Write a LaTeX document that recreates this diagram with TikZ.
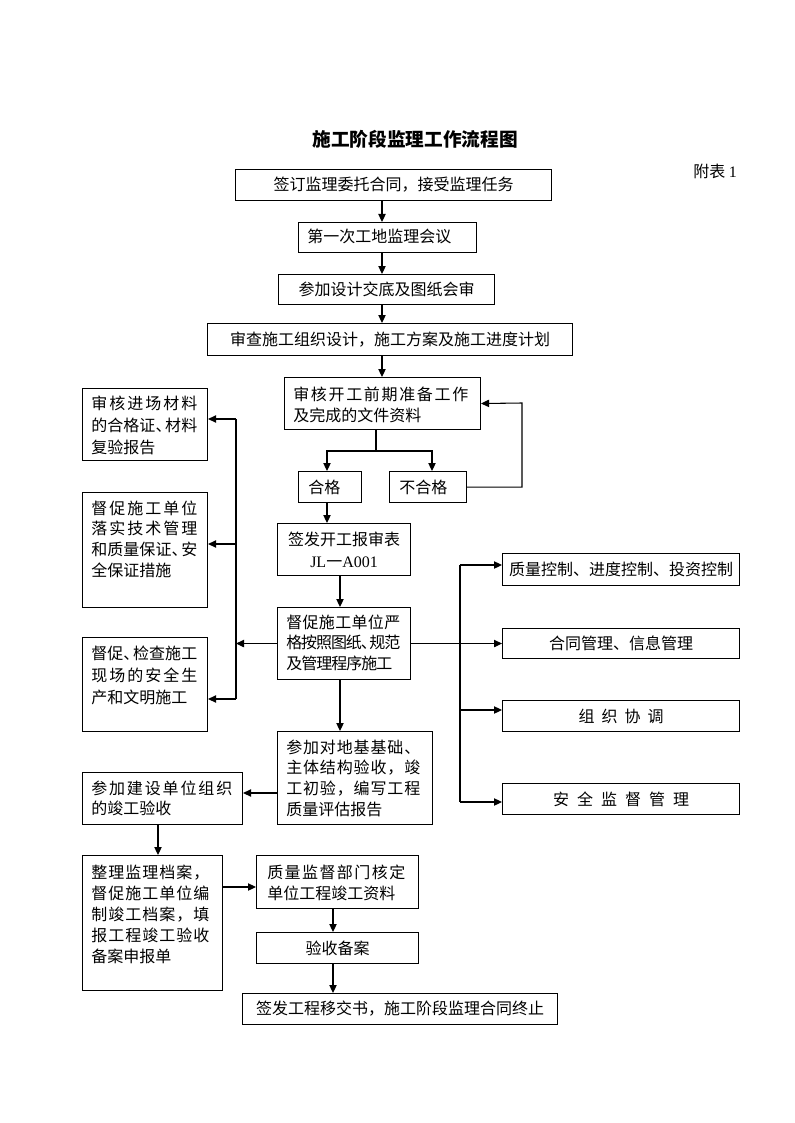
\documentclass[tikz,border=0pt]{standalone}
\usepackage{fontspec}
\setmainfont{Noto Sans CJK SC}
\newfontfamily\lat{Liberation Serif}
\usetikzlibrary{arrows.meta}
\newdimen\px \px=0.75pt
\def\jlx#1{\jlfirst#1\relax}
\def\jlfirst#1{#1\jlrest}
\def\jlrest#1{\ifx\relax#1\else\hskip 0pt plus 1fil minus 4pt\relax#1\expandafter\jlrest\fi}
\newcommand\jl[2]{\makebox[#1\px][s]{\jlx{#2}}}
\newcommand\myrow[1]{\hbox{#1}}
\newcommand\dn{、\kern-0.4em\relax}
\newcommand\ml[2][16.5pt]{\vtop{\baselineskip=#1\relax\lineskiplimit=-20pt\lineskip=0pt #2}}
\begin{document}
\begin{tikzpicture}[x=0.75pt,y=-0.75pt,
  every node/.style={font=\fontsize{12pt}{16.5pt}\selectfont},
  bx/.style={draw, line width=0.8pt, inner sep=0pt, anchor=north west},
  sz/.style 2 args={minimum width=#1*0.75pt, minimum height=#2*0.75pt},
  tx/.style={inner sep=0pt, anchor=base west},
  arr/.style={-{Triangle[length=6pt,width=5.5pt]}, line width=0.8pt},
  ln/.style={line width=0.8pt}]
\useasboundingbox (0,0) rectangle (794,1123);
\fill[white] (0,0) rectangle (794,1123);

% title
\node[inner sep=0pt, font=\fontsize{14pt}{16pt}\selectfont\bfseries] (title) at (415,139) {施工阶段监理工作流程图};
\node[tx] (fubiao) at (693,178) {附表 {\lat 1}};

% main column
\node[bx, sz={316}{31}] (b1) at (235,169) {签订监理委托合同，接受监理任务};
\node[bx, sz={178}{30}] (b2) at (298,222) {};
\node[tx] (b2t) at (307,243) {第一次工地监理会议};
\node[bx, sz={216}{30}] (b3) at (278,274) {参加设计交底及图纸会审};
\node[bx, sz={365}{32}] (b4) at (207,323) {审查施工组织设计，施工方案及施工进度计划};
\node[bx, sz={196}{52}] (b5) at (284,377) {};
\node[tx] (b5t) at (293,400) {\ml[15.75pt]{\myrow{\jl{175}{审核开工前期准备工作}}\myrow{及完成的文件资料}}};
\node[bx, sz={63}{31}] (hg) at (298,471) {};
\node[tx] (hgt) at (308,493) {合格};
\node[bx, sz={77}{31}] (bhg) at (389,471) {};
\node[tx] (bhgt) at (399,493) {不合格};
\node[bx, sz={133}{52}, align=center] (qf) at (277,523) {签发开工报审表\\{\lat JL}一{\lat A001}};
\node[bx, sz={133}{72}] (m) at (277,607) {};
\node[tx] (mt) at (286,628) {\ml[15.5pt]{\myrow{\jl{114}{督促施工单位严}}\myrow{\jl{114}{格按照图纸\dn 规范}}\myrow{\jl{106}{及管理程序施工}}}};
\node[bx, sz={155}{93}] (q) at (277,731) {};
\node[tx] (qt) at (286,753) {\ml[15.5pt]{\myrow{\jl{134}{参加对地基基础、}}\myrow{\jl{134}{主体结构验收，竣}}\myrow{\jl{134}{工初验，编写工程}}\myrow{质量评估报告}}};

% left column
\node[bx, sz={125}{72}] (l1) at (82,388) {};
\node[tx] (l1t) at (91,409) {\ml{\myrow{\jl{106}{审核进场材料}}\myrow{\jl{106}{的合格证\dn 材料}}\myrow{复验报告}}};
\node[bx, sz={125}{115}] (l2) at (82,492) {};
\node[tx] (l2t) at (91,514) {\ml[15.5pt]{\myrow{\jl{106}{督促施工单位}}\myrow{\jl{106}{落实技术管理}}\myrow{\jl{106}{和质量保证\dn 安}}\myrow{全保证措施}}};
\node[bx, sz={125}{94}] (l3) at (82,637) {};
\node[tx] (l3t) at (91,659) {\ml{\myrow{\jl{106}{督促\dn 检查施工}}\myrow{\jl{106}{现场的安全生}}\myrow{产和文明施工}}};

% right column
\node[bx, sz={237}{32}] (r1) at (502,553) {质量控制、进度控制、投资控制};
\node[bx, sz={237}{30}] (r2) at (502,628) {合同管理、信息管理};
\node[bx, sz={237}{31}] (r3) at (502,700) {\jl{85}{组织协调}};
\node[bx, sz={237}{31}] (r4) at (502,783) {\jl{136}{安全监督管理}};

% lower part
\node[bx, sz={160}{52}] (r) at (82,772) {};
\node[tx] (rt) at (91,794) {\ml[15pt]{\myrow{\jl{141}{参加建设单位组织}}\myrow{的竣工验收}}};
\node[bx, sz={140}{135}] (s) at (82,855) {};
\node[tx] (st) at (91,878) {\ml[15.75pt]{\myrow{\jl{118}{整理监理档案，}}\myrow{\jl{118}{督促施工单位编}}\myrow{\jl{118}{制竣工档案，填}}\myrow{\jl{118}{报工程竣工验收}}\myrow{备案申报单}}};
\node[bx, sz={162}{53}] (t) at (256,855) {};
\node[tx] (tt) at (267,878) {\ml[15.75pt]{\myrow{\jl{138}{质量监督部门核定}}\myrow{单位工程竣工资料}}};
\node[bx, sz={162}{31}] (u) at (256,932) {验收备案};
\node[bx, sz={315}{31}] (v) at (242,993) {签发工程移交书，施工阶段监理合同终止};

% helper coordinates
\coordinate (ax) at (382,0);
\coordinate (sp) at (376,451);
\coordinate (hgx) at (327,0);
\coordinate (bhgx) at (432,0);
\coordinate (fbc) at (522,403);
\coordinate (mx) at (340,0);
\coordinate (lbx) at (236,0);
\coordinate (lt) at (236,419);
\coordinate (lm) at (236,544);
\coordinate (lb) at (236,699);
\coordinate (rtp) at (460,565);
\coordinate (rmd) at (460,710);
\coordinate (rbt) at (460,802);
\coordinate (qy) at (0,793);
\coordinate (sx) at (158,0);
\coordinate (sy) at (0,887);
\coordinate (tux) at (333,0);

% connectors
\draw[arr] (b1.south -| ax) -- (b2.north -| ax);
\draw[arr] (b2.south -| ax) -- (b3.north -| ax);
\draw[arr] (b3.south -| ax) -- (b4.north -| ax);
\draw[arr] (b4.south -| ax) -- (b5.north -| ax);
\draw[ln] (b5.south -| sp) -- (sp);
\draw[arr] (sp) -| (hg.north -| hgx);
\draw[arr] (sp) -| (bhg.north -| bhgx);
\draw[arr] (bhg.east) -| (fbc) -- (b5.east);
\draw[arr] (hg.south -| hgx) -- (qf.north -| hgx);
\draw[arr] (qf.south -| mx) -- (m.north -| mx);
\draw[arr] (m.west) -- (m.west -| lbx);
\draw[ln] (lt) -- (lb);
\draw[arr] (lt) -- (lt -| l1.east);
\draw[arr] (lm) -- (lm -| l2.east);
\draw[arr] (lb) -- (lb -| l3.east);
\draw[arr] (m.east) -- (m.east -| r2.west);
\draw[ln] (rtp) -- (rbt);
\draw[arr] (rtp) -- (rtp -| r1.west);
\draw[arr] (rmd) -- (rmd -| r3.west);
\draw[arr] (rbt) -- (rbt -| r4.west);
\draw[arr] (m.south -| mx) -- (q.north -| mx);
\draw[arr] (q.west |- qy) -- (r.east |- qy);
\draw[arr] (r.south -| sx) -- (s.north -| sx);
\draw[arr] (s.east |- sy) -- (t.west |- sy);
\draw[arr] (t.south -| tux) -- (u.north -| tux);
\draw[arr] (u.south -| tux) -- (v.north -| tux);
\end{tikzpicture}
\end{document}
